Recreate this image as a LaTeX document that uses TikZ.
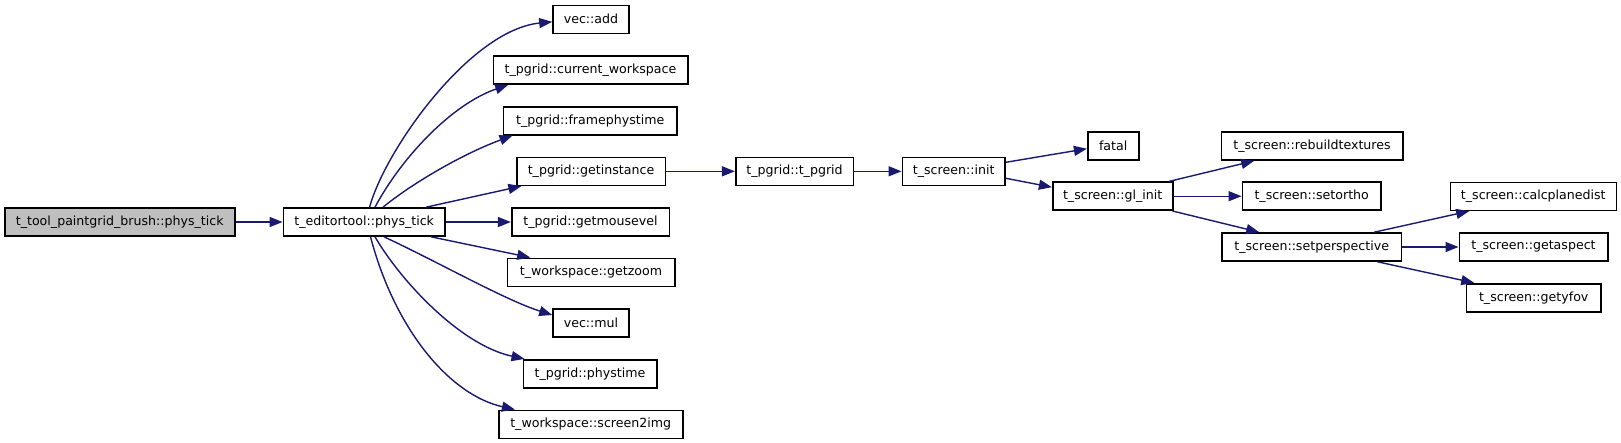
\documentclass[tikz,border=0pt]{standalone}
\usepackage{fontspec}
\newfontfamily\dvsans{DejaVu Sans}
\usetikzlibrary{arrows.meta}
\definecolor{edgeblue}{HTML}{191970}
\definecolor{srcgray}{HTML}{BFBFBF}
\begin{document}
\begin{tikzpicture}[x=1pt,y=-1pt,
  fn/.style={draw=black,line width=1.6pt,fill=white,inner sep=0pt,minimum height=28pt,
    font=\dvsans\fontsize{12.6}{14}\selectfont,anchor=center},
  srcbox/.style={fn,fill=srcgray},
  edge/.style={draw=edgeblue,line width=1.4pt,-{Triangle[length=13pt,width=10pt]}}]
\useasboundingbox (0,0) rectangle (1621,442);
% nodes
\node[srcbox,minimum width=230pt] (src) at (119.7,222) {t\_tool\_paintgrid\_brush::phys\_tick};
\node[fn,minimum width=161.7pt] (ed) at (364.2,222) {t\_editortool::phys\_tick};
\node[fn,minimum width=76pt] (add) at (591,19.3) {vec::add};
\node[fn,minimum width=194.4pt] (cw) at (590.5,70) {t\_pgrid::current\_workspace};
\node[fn,minimum width=173.7pt] (fp) at (590.2,120.7) {t\_pgrid::framephystime};
\node[fn,minimum width=148.6pt] (gi) at (591,171.3) {t\_pgrid::getinstance};
\node[fn,minimum width=157.6pt] (gm) at (590.5,222) {t\_pgrid::getmousevel};
\node[fn,minimum width=167.4pt] (gz) at (591,272.3) {t\_workspace::getzoom};
\node[fn,minimum width=76pt] (mul) at (591,323) {vec::mul};
\node[fn,minimum width=133.4pt] (pt) at (590,373.7) {t\_pgrid::phystime};
\node[fn,minimum width=184pt] (s2i) at (590.7,424.3) {t\_workspace::screen2img};
\node[fn,minimum width=117.6pt] (pg) at (794.5,171.3) {t\_pgrid::t\_pgrid};
\node[fn,minimum width=102.7pt] (init) at (953.7,171.3) {t\_screen::init};
\node[fn,minimum width=51pt] (fatal) at (1113.2,146) {fatal};
\node[fn,minimum width=120pt] (gl) at (1112.7,196.2) {t\_screen::gl\_init};
\node[fn,minimum width=181.4pt] (rb) at (1312,146) {t\_screen::rebuildtextures};
\node[fn,minimum width=138.7pt] (so) at (1311.7,196.2) {t\_screen::setortho};
\node[fn,minimum width=179.3pt] (sp) at (1311.7,247) {t\_screen::setperspective};
\node[fn,minimum width=166pt] (cpd) at (1533.3,196.3) {t\_screen::calcplanedist};
\node[fn,minimum width=148.4pt] (ga) at (1533.5,247) {t\_screen::getaspect};
\node[fn,minimum width=134.7pt] (gy) at (1533.7,297.7) {t\_screen::getyfov};
% edges
\draw[edge] (src.east) -- (ed.west);
\draw[edge] ([xshift=5.4pt]ed.north) .. controls (385,150) and (470,30) .. ([yshift=-2.5pt]add.west);
\draw[edge] ([xshift=10.8pt]ed.north) .. controls (400,160) and (450,105) .. ([xshift=15.7pt]cw.south west);
\draw[edge] ([xshift=18.8pt]ed.north) .. controls (410,185) and (460,155) .. ([xshift=10pt]fp.south west);
\draw[edge] ([xshift=61.8pt]ed.north) -- ([xshift=5.5pt]gi.south west);
\draw[edge] (ed.east) -- (gm.west);
\draw[edge] ([xshift=66.8pt]ed.south) -- ([xshift=23.7pt]gz.north west);
\draw[edge] ([xshift=19.8pt]ed.south) .. controls (440,263) and (505,300) .. ([yshift=8pt]mul.west);
\draw[edge] ([xshift=10.8pt]ed.south) .. controls (400,280) and (460,345) .. ([xshift=2pt]pt.north west);
\draw[edge] ([xshift=6.3pt]ed.south) .. controls (395,330) and (450,395) .. ([xshift=17pt]s2i.north west);
\draw[edge] (gi.east) -- (pg.west);
\draw[edge] (pg.east) -- (init.west);
\draw[edge] ([yshift=9pt]init.east) -- ([yshift=-2.7pt]fatal.west);
\draw[edge] ([yshift=-7pt]init.east) -- ([yshift=9pt]gl.west);
\draw[edge] ([xshift=-4.4pt]gl.north east) -- ([xshift=33.7pt]rb.south west);
\draw[edge] (gl.east) -- (so.west);
\draw[edge] ([xshift=-1pt]gl.south east) -- ([xshift=38pt]sp.north west);
\draw[edge] ([xshift=-28pt]sp.north east) -- ([xshift=19.7pt]cpd.south west);
\draw[edge] (sp.east) -- (ga.west);
\draw[edge] ([xshift=-24.6pt]sp.south east) -- ([xshift=8.7pt]gy.north west);
\end{tikzpicture}
\end{document}
